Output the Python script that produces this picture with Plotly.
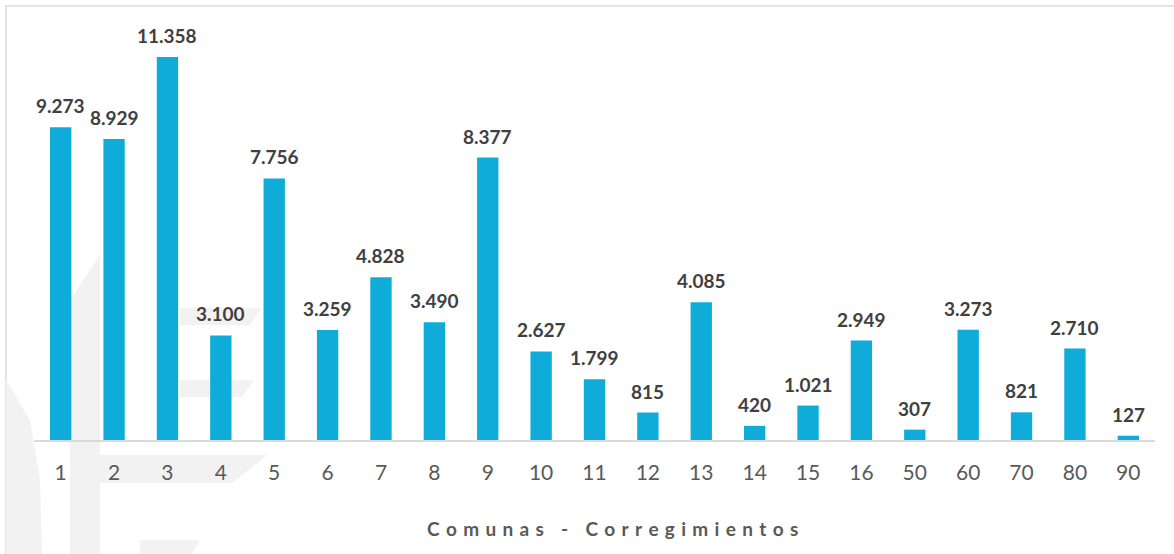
import plotly.graph_objects as go

categories = ["1", "2", "3", "4", "5", "6", "7", "8", "9", "10", "11",
              "12", "13", "14", "15", "16", "50", "60", "70", "80", "90"]
values = [9273, 8929, 11358, 3100, 7756, 3259, 4828, 3490, 8377, 2627, 1799,
          815, 4085, 420, 1021, 2949, 307, 3273, 821, 2710, 127]
value_labels = ["9.273", "8.929", "11.358", "3.100", "7.756", "3.259", "4.828",
                "3.490", "8.377", "2.627", "1.799", "815", "4.085", "420",
                "1.021", "2.949", "307", "3.273", "821", "2.710", "127"]
axis_title = "Comunas - Corregimientos"

W, H = 1174, 554
ML, MR, MT, MB = 34, 19, 20, 114
PW, PH = W - ML - MR, H - MT - MB


def px(x, y):
    return (x - ML) / PW, (H - MB - y) / PH


def path(points):
    pts = [px(x, y) for x, y in points]
    return "M " + " L ".join(f"{a:.4f},{b:.4f}" for a, b in pts) + " Z"


fig = go.Figure()
fig.add_trace(go.Bar(
    x=categories, y=values, marker=dict(color="#0FACDA", line=dict(width=0)),
    width=0.4, hoverinfo="skip",
))

annotations = []
for i, (v, t) in enumerate(zip(values, value_labels)):
    annotations.append(dict(
        x=i, y=v, text=f"<b>{t}</b>", showarrow=False, yanchor="bottom",
        yshift=8, font=dict(family="Lato", size=19, color="#404040"),
    ))

letter_gap = "\u2004"
word_gap = "\u2004 \u2004"
spaced = word_gap.join(letter_gap.join(w) for w in axis_title.split(" "))
ax, ay = px(612, 528)
annotations.append(dict(
    x=ax, y=ay, xref="paper", yref="paper", text=f"<b>{spaced}</b>",
    showarrow=False, xanchor="center", yanchor="middle",
    font=dict(family="Lato", size=19, color="#595959"),
))

wm = "#f2f2f2"
shapes = [
    dict(type="rect", xref="paper", yref="paper", layer="below",
         x0=px(6, 0)[0], x1=px(1180, 0)[0], y0=px(0, 6)[1], y1=px(0, 560)[1],
         line=dict(color="#e3e3e3", width=2), fillcolor="rgba(0,0,0,0)"),
    dict(type="path", xref="paper", yref="paper", layer="below",
         path=path([(70, 300), (100, 255), (100, 554), (70, 554)]),
         fillcolor=wm, line=dict(width=0)),
    dict(type="path", xref="paper", yref="paper", layer="below",
         path=path([(180, 308), (262, 308), (250, 325), (180, 325)]),
         fillcolor=wm, line=dict(width=0)),
    dict(type="path", xref="paper", yref="paper", layer="below",
         path=path([(180, 380), (254, 380), (242, 397), (180, 397)]),
         fillcolor=wm, line=dict(width=0)),
    dict(type="path", xref="paper", yref="paper", layer="below",
         path=path([(100, 455), (268, 455), (232, 483), (100, 483)]),
         fillcolor=wm, line=dict(width=0)),
    dict(type="path", xref="paper", yref="paper", layer="below",
         path=path([(6, 380), (30, 420), (40, 480), (42, 554), (6, 554)]),
         fillcolor=wm, line=dict(width=0)),
    dict(type="path", xref="paper", yref="paper", layer="below",
         path=path([(140, 540), (200, 540), (192, 554), (140, 554)]),
         fillcolor=wm, line=dict(width=0)),
]

fig.update_layout(
    width=W, height=H,
    margin=dict(l=ML, r=MR, t=MT, b=MB),
    paper_bgcolor="white", plot_bgcolor="rgba(0,0,0,0)",
    showlegend=False, bargap=0.6,
    annotations=annotations, shapes=shapes,
    xaxis=dict(
        type="category", range=[-0.5, 20.5], showgrid=False, zeroline=False,
        showline=True, linecolor="#d9d9d9", linewidth=2, ticks="",
        tickfont=dict(family="Lato", size=21, color="#595959"),
        ticklabelstandoff=13,
    ),
    yaxis=dict(range=[0, 12455], visible=False, showgrid=False, zeroline=False),
)

fig.write_html("out.html",
               config={"displayModeBar": False},
               post_script="document.body.style.margin='0px';"
                           "document.body.style.overflow='hidden';")
